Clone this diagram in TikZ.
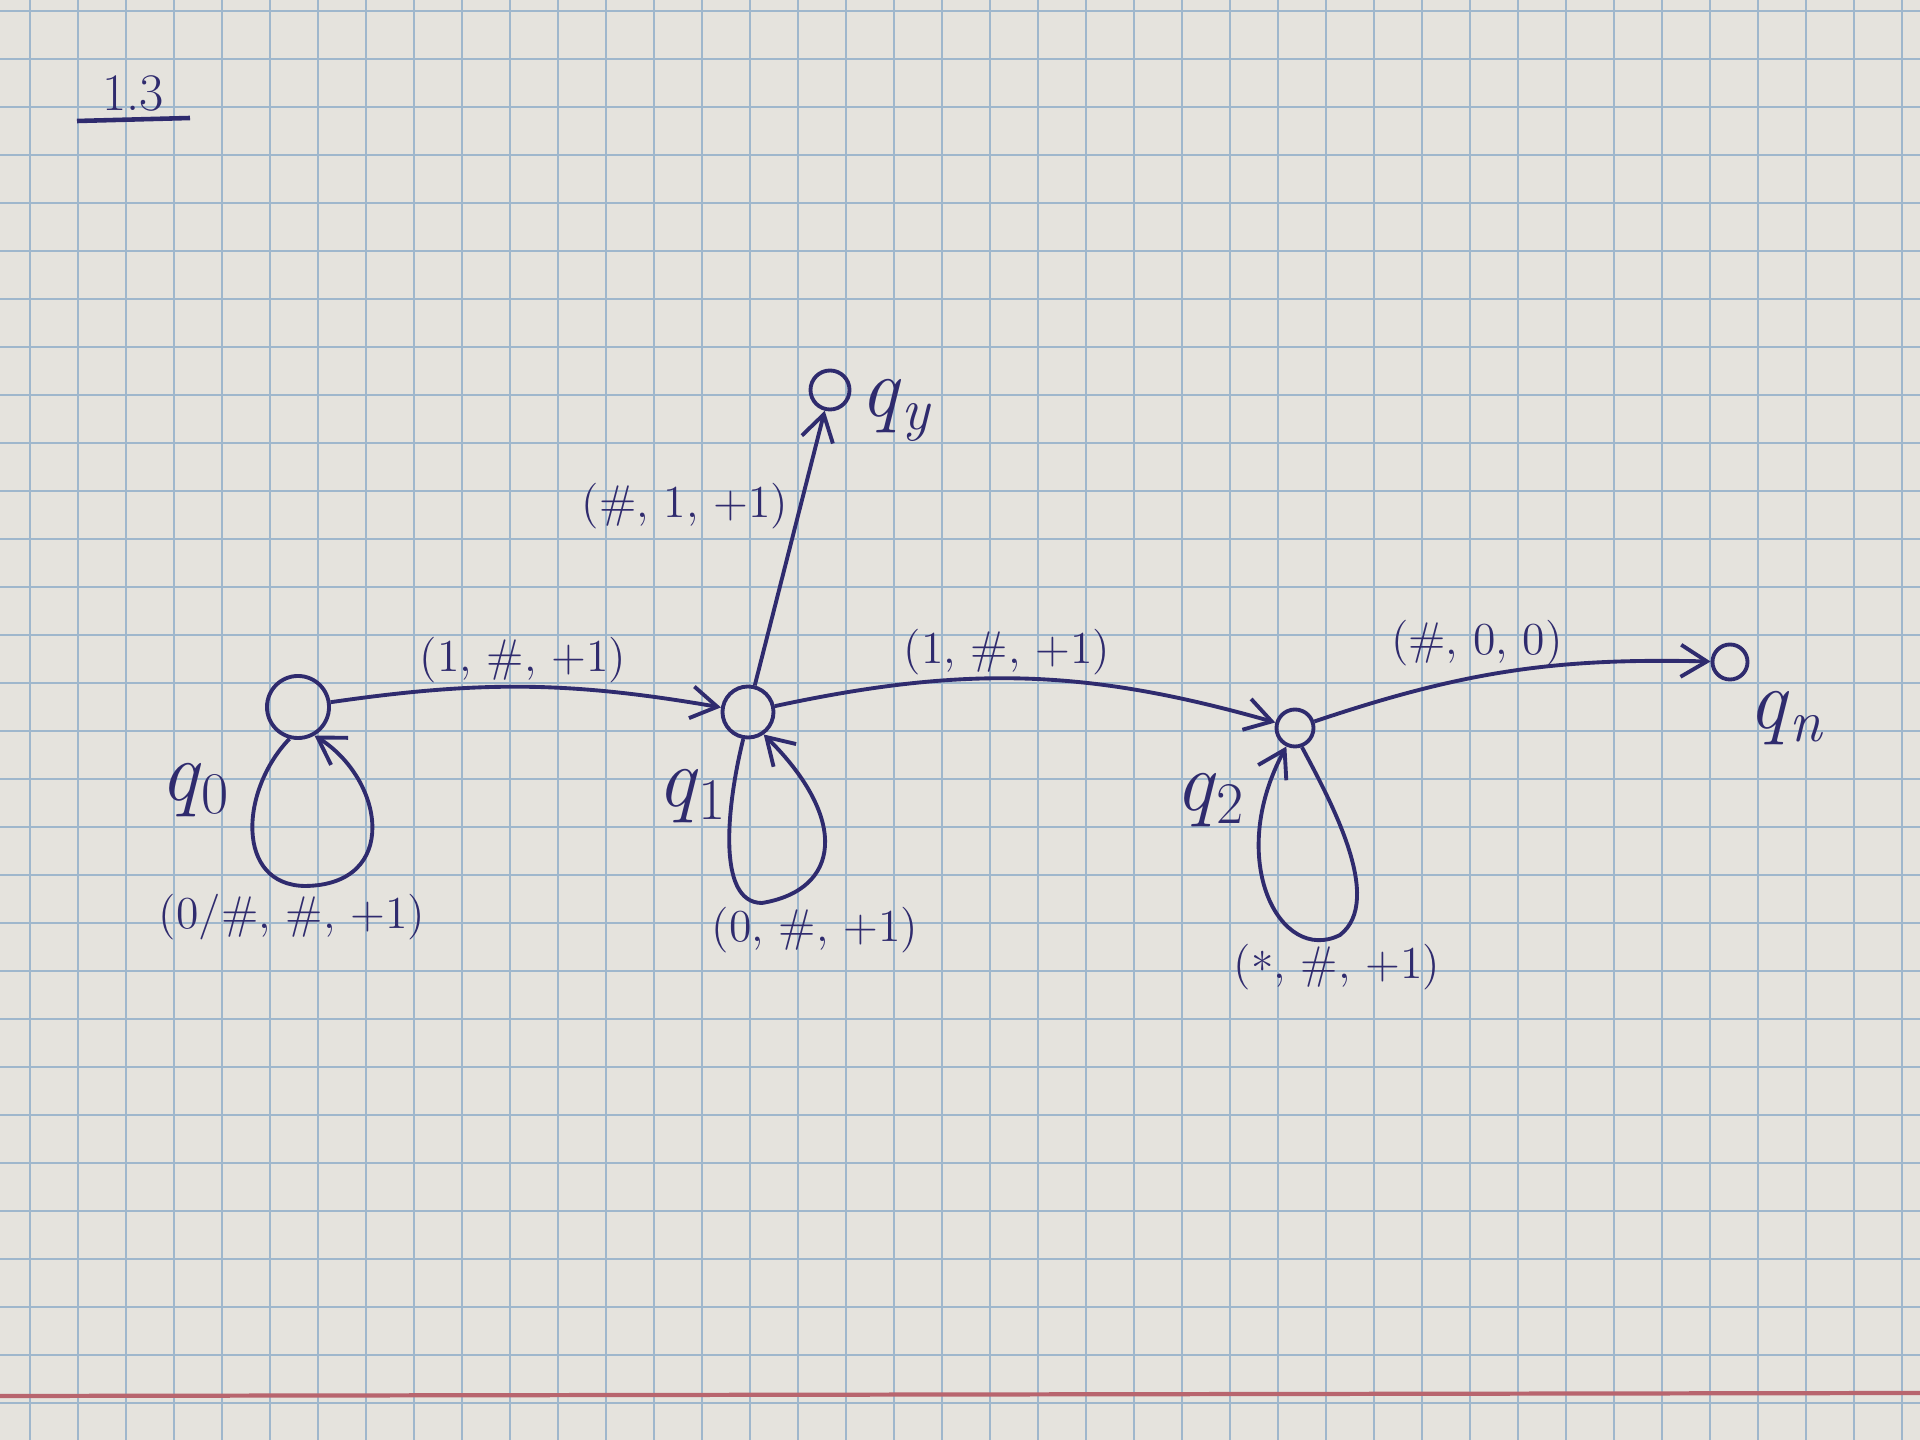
\documentclass[tikz,border=0pt]{standalone}
\usetikzlibrary{arrows.meta}
\definecolor{ink}{HTML}{2F2B6E}
\definecolor{paper}{HTML}{E5E3DD}
\definecolor{gridc}{HTML}{9FB7CC}
\definecolor{marginc}{HTML}{B8656E}
\begin{document}
\begin{tikzpicture}[x=0.01cm,y=-0.01cm,
  state/.style={draw=ink, circle, line width=1.1pt, inner sep=0pt},
  edge/.style={draw=ink, line width=1.1pt, -{Straight Barb[length=2.6mm,width=3.2mm,line width=1.1pt]}},
  lbl/.style={text=ink, font=\fontsize{13}{15}\selectfont, inner sep=1pt},
  slbl/.style={text=ink, font=\fontsize{24}{26}\selectfont, inner sep=1pt}]
\fill[paper] (0,0) rectangle (1920,1440);
\useasboundingbox (0,0) rectangle (1920,1440);
\foreach \x in {30,78,...,1920} \draw[gridc, line width=0.7pt] (\x,0) -- (\x,1440);
\foreach \y in {11,59,...,1440} \draw[gridc, line width=0.7pt] (0,\y) -- (1920,\y);
\draw[marginc, line width=1.2pt] (0,1396) -- (1920,1393);

% title
\node[text=ink, font=\fontsize{15}{17}\selectfont] (title) at (133,93) {1.3};
\draw[ink, line width=1.3pt] (77,121) -- (190,118);

% states
\node[state, minimum size=0.62cm] (q0) at (298,707) {};
\node[state, minimum size=0.51cm] (q1) at (748,712) {};
\node[state, minimum size=0.39cm] (qy) at (830,390) {};
\node[state, minimum size=0.37cm] (q2) at (1295,728) {};
\node[state, minimum size=0.35cm] (qn) at (1730,662) {};

\node[slbl] (l0) at (195,790) {\textit{q}\textsubscript{0}};
\node[slbl] (l1) at (692,796) {\textit{q}\textsubscript{1}};
\node[slbl] (ly) at (897,410) {\textit{q}\textsubscript{\textit{y}}};
\node[slbl] (l2) at (1210,800) {\textit{q}\textsubscript{2}};
\node[slbl] (ln) at (1787,718) {\textit{q}\textsubscript{\textit{n}}};

% edges
\draw[edge] (q0) to[bend left=9] (q1);
\draw[edge] (q1) -- (qy);
\draw[edge] (q1) to[bend left=14] (q2);
\draw[edge] (q2) to[bend left=10] (qn);

% loops
\draw[edge] (q0.255) .. controls (240,790) and (235,885) .. (305,886)
  .. controls (400,885) and (385,780) .. (q0.300);
\draw[edge] (q1.260) .. controls (728,800) and (715,903) .. (762,903)
  .. controls (840,890) and (850,820) .. (q1.305);
\draw[edge] (q2.290) .. controls (1330,800) and (1385,900) .. (1340,935)
  .. controls (1280,965) and (1225,860) .. (q2.245);

% edge labels
\node[lbl] (e01) at (523,660) {(1, \#, +1)};
\node[lbl] (e1y) at (685,506) {(\#, 1, +1)};
\node[lbl] (e12) at (1007,652) {(1, \#, +1)};
\node[lbl] (e2n) at (1477,643) {(\#, 0, 0)};
\node[lbl] (l00) at (292,917) {(0/\#, \#, +1)};
\node[lbl] (l11) at (815,930) {(0, \#, +1)};
\node[lbl] (l22) at (1337,967) {(\raisebox{-0.35ex}{*}, \#, +1)};
\end{tikzpicture}
\end{document}
